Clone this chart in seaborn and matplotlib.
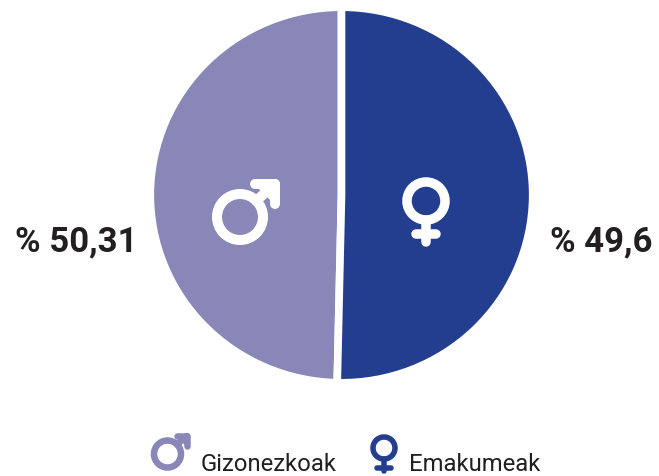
import matplotlib.pyplot as plt
from matplotlib.patches import Circle
import seaborn as sns

# drawn slice sizes, they don't quite follow the printed labels
groups = ["Gizonezkoak", "Emakumeak"]
slice_sizes = [49.6, 50.31]
value_labels = ["% 50,31", "% 49,6"]
colors = ["#8987B8", "#243E8F"]

W, H = 659, 477

sns.set_theme(style="white")
plt.rcParams['font.family'] = ['Roboto', 'Liberation Sans', 'DejaVu Sans']
palette = sns.color_palette(colors)

fig = plt.figure(figsize=(W / 100, H / 100), dpi=100)

# pie axes, in figure fractions
cx, cy, rx, ry = 341.5, 196, 191.2, 187.8
pie_ax = fig.add_axes([(cx - rx) / W, 1 - (cy + ry) / H, 2 * rx / W, 2 * ry / H])
pie_ax.pie(slice_sizes, colors=palette, startangle=90, radius=1,
           wedgeprops=dict(edgecolor="white", linewidth=5.5))
pie_ax.set_xlim(-1, 1)
pie_ax.set_ylim(-1, 1)
pie_ax.set_aspect("auto")
pie_ax.axis("off")

# overlay in pixel coordinates for the icons and text
ax = fig.add_axes([0, 0, 1, 1], zorder=3)
ax.set_xlim(0, W)
ax.set_ylim(H, 0)
ax.axis("off")


def stroke(xs, ys, color, width):
    ax.plot(xs, ys, color=color, lw=width * 0.72, solid_capstyle="round",
            solid_joinstyle="round")


def male_icon(x, y, r, width, tip, head, color):
    ax.add_patch(Circle((x, y), r, fill=False, ec=color, lw=width * 0.72))
    tx, ty = tip
    stroke([x + r * 0.7, tx], [y - r * 0.7, ty], color, width)
    stroke([tx - head, tx, tx], [ty, ty, ty + head], color, width)
    ax.fill([tx - head, tx, tx], [ty, ty, ty + head], color=color)


def female_icon(x, y, r, width, stem_end, bar_y, bar_half, color):
    ax.add_patch(Circle((x, y), r, fill=False, ec=color, lw=width * 0.72))
    stroke([x, x], [y + r, stem_end], color, width)
    stroke([x - bar_half, x + bar_half], [bar_y, bar_y], color, width)


male_icon(240, 218, 23, 10, (275, 185), 20, "white")
female_icon(426, 202, 19, 9.5, 243, 235, 10, "white")
male_icon(167.5, 455, 13.5, 6.5, (187, 437), 10, palette[0])
female_icon(384, 449, 11, 5.5, 472, 469, 7, palette[1])

ax.text(137.5, 251, value_labels[0], ha="right", va="baseline", fontsize=25,
        fontweight="bold", color="#231F20")
ax.text(652, 251, value_labels[1], ha="right", va="baseline", fontsize=25,
        fontweight="bold", color="#231F20")
ax.text(201, 471, groups[0], ha="left", va="baseline", fontsize=17.2, color="#231F20")
ax.text(409, 471, groups[1], ha="left", va="baseline", fontsize=17.2, color="#231F20")

plt.savefig("out.png", dpi=100)
plt.close()
